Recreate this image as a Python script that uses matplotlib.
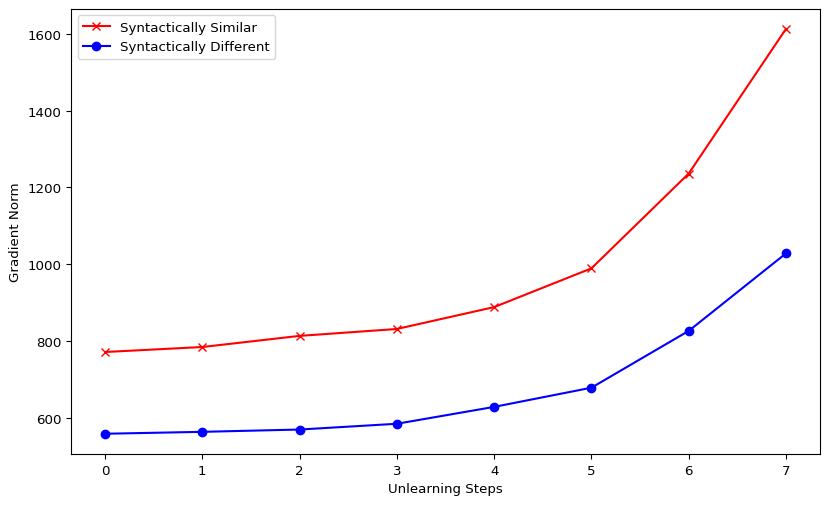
import matplotlib
matplotlib.use("Agg")
import matplotlib.pyplot as plt

steps = [0, 1, 2, 3, 4, 5, 6, 7]
similar = [771, 784, 813, 831, 888, 989, 1236, 1613]
different = [558, 563, 569, 584, 628, 678, 826, 1028]

plt.rcParams["font.size"] = 9.6

fig, ax = plt.subplots(figsize=(8.3, 5.06), dpi=100)
fig.subplots_adjust(left=0.0855, right=0.988, top=0.981, bottom=0.1008)

ax.plot(steps, similar, color="red", marker="x", label="Syntactically Similar")
ax.plot(steps, different, color="blue", marker="o", label="Syntactically Different")

ax.set_xlabel("Unlearning Steps")
ax.set_ylabel("Gradient Norm")
ax.legend(loc="upper left")

fig.savefig("out.png", dpi=100)
